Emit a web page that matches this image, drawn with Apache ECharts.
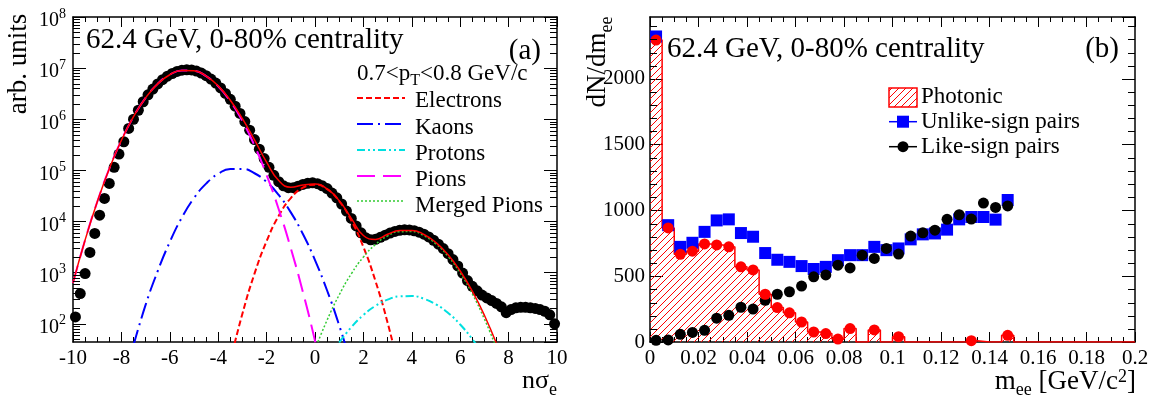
<!DOCTYPE html>
<html><head><meta charset="utf-8">
<script src="https://cdn.jsdelivr.net/npm/echarts@6/dist/echarts.min.js"></script>
<style>html,body{margin:0;padding:0;background:#fff}#c{width:1162px;height:405px}</style>
</head><body><div id="c"></div>
<script>
const FONT = "'Liberation Serif','Times New Roman',serif";

// ---------- Panel (a): n sigma_e distribution ----------
const nsigX = [-10,-9.5,-9,-8.5,-8,-7.5,-7,-6.5,-6,-5.5,-5,-4.5,-4,-3.5,-3,-2.5,-2,-1.5,-1,-0.5,0,0.5,1,1.5,2,2.5,3,3.5,4,4.5,5,5.5,6,6.5,7,7.5,8];
const pions = [630,4345,24100,108000,388000,1124000,2620000,4920000,7430000,9020000,8830000,6950000,4410000,2250000,925000,305000,81300,17400,3000,417,46.6,4.2,null,null,null,null,null,null,null,null,null,null,null,null,null,null,null];
const kaons = [null,null,null,null,null,38,234,1070,3980,12000,28800,55000,85700,107000,107000,87900,59400,33100,15100,5690,1760,447,93,16,null,null,null,null,null,null,null,null,null,null,null,null,null];
const electrons = [null,null,null,null,null,null,null,null,null,null,null,null,null,18.6,157,955,4130,12900,28700,45800,52400,42900,25100,10500,3170,682,105,11.6,null,null,null,null,null,null,null,null,null];
const protons = [null,null,null,null,null,null,null,null,null,null,null,null,null,null,null,null,null,null,null,null,null,null,43,85.5,148,224,296,343,348,308,239,163,96.6,50,22.8,null,null];
const mergedPions = [null,null,null,null,null,null,null,null,null,null,null,null,null,null,null,null,null,null,null,null,31.5,118,368,946,2020,3565,5220,6320,6350,5275,3630,2075,980,384,124,33.4,null];
const totalFit = [630,4345,24100,108000,388000,1124000,2620000,4920000,7430000,9030000,8860000,7000000,4500000,2360000,1030000,394000,145000,63400,46800,51900,54200,43500,25600,11550,5340,4470,5620,6675,6700,5580,3870,2240,1077,434,147,41,null];

const dataX = [-9.9,-9.7,-9.5,-9.3,-9.1,-8.9,-8.7,-8.5,-8.3,-8.1,-7.9,-7.7,-7.5,-7.3,-7.1,-6.9,-6.7,-6.5,-6.3,-6.1,-5.9,-5.7,-5.5,-5.3,-5.1,-4.9,-4.7,-4.5,-4.3,-4.1,-3.9,-3.7,-3.5,-3.3,-3.1,-2.9,-2.7,-2.5,-2.3,-2.1,-1.9,-1.7,-1.5,-1.3,-1.1,-0.9,-0.7,-0.5,-0.3,-0.1,0.1,0.3,0.5,0.7,0.9,1.1,1.3,1.5,1.7,1.9,2.1,2.3,2.5,2.7,2.9,3.1,3.3,3.5,3.7,3.9,4.1,4.3,4.5,4.7,4.9,5.1,5.3,5.5,5.7,5.9,6.1,6.3,6.5,6.7,6.9,7.1,7.3,7.5,7.7,7.9,8.1,8.3,8.5,8.7,8.9,9.1,9.3,9.5,9.7,9.9];
const dataY = [136,390,960,2480,5850,13300,28300,55600,115000,208000,363000,660000,1000000,1500000,2200000,3000000,3900000,4900000,5950000,6950000,7850000,8600000,9100000,9300000,9200000,8750000,8000000,7100000,6100000,5100000,4100000,3200000,2450000,1800000,1300000,900000,610000,400000,260000,170000,115000,80000,60000,50000,46000,46000,49000,53000,56000,57000,55000,50000,44000,36000,29000,22000,16000,11500,8200,6000,4800,4400,4500,4900,5400,5950,6400,6750,6900,6850,6600,6200,5650,5000,4300,3600,2950,2350,1800,1350,980,700,540,440,365,320,285,250,215,165,190,205,210,210,205,200,190,175,150,100];

const logDecades = [10,100,1000,10000,100000,1000000,10000000];
const logMultipliers = [2,3,4,5,6,7,8,9];
const yTitleA = 'arb. units';
const xTitleA = ['n', 'σ', 'e'];

// ---------- Panel (b): di-electron mass ----------
const massX = [0.0025,0.0075,0.0125,0.0175,0.0225,0.0275,0.0325,0.0375,0.0425,0.0475,0.0525,0.0575,0.0625,0.0675,0.0725,0.0775,0.0825,0.0875,0.0925,0.0975,0.1025,0.1075,0.1125,0.1175,0.1225,0.1275,0.1325,0.1375,0.1425,0.1475];
const unlikeSign = [2322,888,723,754,837,924,932,828,800,676,625,609,577,555,571,622,660,660,723,698,711,780,818,825,854,932,950,950,930,1079];
const likeSign = [13,16,58,73,89,181,203,264,250,317,363,382,425,495,510,584,563,660,635,711,668,805,830,850,932,967,934,1056,1023,1034];
const photonic = [2295,867,666,690,745,738,723,571,548,363,262,222,152,76,64,22,102,-40,92,-40,40,-40,-40,-40,-40,-40,10,-40,-40,51];
const massMinorTicks = [100,200,300,400,600,700,800,900,1100,1200,1300,1400,1600,1700,1800,1900,2100,2200,2300,2400];
const binHalfWidth = 0.0025;
const massAxisEnd = 0.2;

// ---------- helpers ----------
function pairs(xs, ys) { const out = []; xs.forEach((x, i) => { if (ys[i] !== null) out.push([x, ys[i]]); }); return out; }
const logMinorTicks = [];
logDecades.forEach(d => logMultipliers.forEach(m => { const v = d * m; if (v >= 44 && v < 1e8) logMinorTicks.push(v); }));

const histData = massX.map((x, i) => [+(x - binHalfWidth).toFixed(4), Math.max(0, photonic[i])]);
histData.push([+(massX[massX.length - 1] + binHalfWidth).toFixed(4), 0]);
histData.push([massAxisEnd, 0]);

function hatchCanvas() {
  const s = 7; const c = document.createElement('canvas'); c.width = s; c.height = s;
  const g = c.getContext('2d'); g.strokeStyle = '#ff0000'; g.lineWidth = 1;
  g.beginPath(); g.moveTo(0, s); g.lineTo(s, 0); g.moveTo(-1, 1); g.lineTo(1, -1); g.moveTo(s - 1, s + 1); g.lineTo(s + 1, s - 1); g.stroke();
  return c;
}
const hatchPattern = { image: hatchCanvas(), repeat: 'repeat' };

const axLine = { onZero: false, lineStyle: { color: '#000', width: 1.5 } };
const lbl = { color: '#000', fontFamily: FONT, fontSize: 21 };

function xAxisDef(grid, pos, min, max, interval, showLabel) {
  return {
    type: 'value', gridIndex: grid, position: pos, min: min, max: max, interval: interval,
    axisLine: axLine, splitLine: { show: false }, minorSplitLine: { show: false },
    axisTick: { inside: true, length: 10, lineStyle: { color: '#000', width: 1 } },
    minorTick: { show: true, splitNumber: 4, length: 5, lineStyle: { color: '#000', width: 1 } },
    axisLabel: Object.assign({ show: showLabel, margin: 6, formatter: v => String(+v.toFixed(4)) }, lbl)
  };
}

const logLabel = {
  show: true, margin: 7, showMinLabel: false, color: '#000',
  formatter: v => '{b|10}{s|' + Math.round(Math.log10(v)) + '}',
  rich: {
    b: { fontFamily: FONT, fontSize: 20, color: '#000', verticalAlign: 'top', padding: [8, 0, 0, 0] },
    s: { fontFamily: FONT, fontSize: 14, color: '#000', verticalAlign: 'top', padding: [4, 0, 0, 0] }
  }
};

function logYDef(pos, showLabel) {
  return {
    type: 'log', logBase: 10, gridIndex: 0, position: pos, min: 44, max: 1e8,
    axisLine: axLine, splitLine: { show: false },
    axisTick: { inside: true, length: 13, lineStyle: { color: '#000', width: 1 } },
    axisLabel: showLabel ? logLabel : { show: false }
  };
}
function linYDef(pos, showLabel) {
  return {
    type: 'value', gridIndex: 1, position: pos, min: 0, max: 2470, interval: 500,
    axisLine: axLine, splitLine: { show: false },
    axisTick: { inside: true, length: 13, lineStyle: { color: '#000', width: 1 } },
    axisLabel: Object.assign({ show: showLabel, margin: 5, showMaxLabel: false, formatter: v => String(v) }, lbl)
  };
}

function curve(name, ys, color, width, dash, z) {
  return { type: 'line', name: name, xAxisIndex: 0, yAxisIndex: 0, data: pairs(nsigX, ys), smooth: true,
    symbol: 'none', showSymbol: false, clip: true, z: z || 4,
    lineStyle: { color: color, width: width, type: dash } };
}

const curveStyles = [
  { name: 'Electrons', color: '#ff0000', width: 2, dash: [6, 3] },
  { name: 'Kaons', color: '#0000ff', width: 2, dash: [16, 5, 2, 5] },
  { name: 'Protons', color: '#00e0e0', width: 2, dash: [8, 3, 2, 3, 2, 3] },
  { name: 'Pions', color: '#ff00ff', width: 2, dash: [18, 8] },
  { name: 'Merged Pions', color: '#33cc33', width: 1.5, dash: [2, 2] }
];
const curveData = { 'Electrons': electrons, 'Kaons': kaons, 'Protons': protons, 'Pions': pions, 'Merged Pions': mergedPions };

// ---------- graphic texts and legends ----------
const g = [];
function txt(x, y, text, size, align, extra) {
  const st = Object.assign({ x: 0, y: 0, text: text, fill: '#000', fontFamily: FONT, fontSize: size,
    align: align, textAlign: align, verticalAlign: 'middle', textVerticalAlign: 'middle' }, extra || {});
  return { type: 'text', x: x, y: y, z: 100, style: st };
}
const yt = txt(19, 64, yTitleA, 27, 'center'); yt.rotation = Math.PI / 2; g.push(yt);
g.push(txt(86, 40, '62.4 GeV, 0-80% centrality', 29, 'left'));
g.push(txt(541, 51, '(a)', 29, 'right'));
g.push(txt(667, 49.5, '62.4 GeV, 0-80% centrality', 29, 'left'));
g.push(txt(1119, 49.5, '(b)', 29, 'right'));
g.push(txt(357, 75.7, '{m|0.7<p}{s|T}{m|<0.8 GeV/c}', 23, 'left', { rich: {
  m: { fontFamily: FONT, fontSize: 23, verticalAlign: 'top' },
  s: { fontFamily: FONT, fontSize: 16, verticalAlign: 'top', padding: [10, 0, 0, 0] } } }));
g.push(txt(557, 384, '{m|' + xTitleA[0] + xTitleA[1] + '}{s|' + xTitleA[2] + '}', 26, 'right', { rich: {
  m: { fontFamily: FONT, fontSize: 26, verticalAlign: 'top' },
  s: { fontFamily: FONT, fontSize: 18, verticalAlign: 'top', padding: [13, 0, 0, 0] } } }));
g.push(txt(1136, 384, '{m|m}{s|ee}{m| [GeV/c}{p|2}{m|]}', 27, 'right', { rich: {
  m: { fontFamily: FONT, fontSize: 27, verticalAlign: 'top' },
  s: { fontFamily: FONT, fontSize: 18, verticalAlign: 'top', padding: [13, 0, 0, 0] },
  p: { fontFamily: FONT, fontSize: 18, verticalAlign: 'top', padding: [0, 0, 0, 0] } } }));
const dn = txt(600, 62, '{m|dN/dm}{s|ee}', 27, 'center', { rich: {
  m: { fontFamily: FONT, fontSize: 27, verticalAlign: 'top' },
  s: { fontFamily: FONT, fontSize: 18, verticalAlign: 'top', padding: [14, 0, 0, 0] } } });
dn.rotation = Math.PI / 2; g.push(dn);

// left legend
const legLineY = [98, 124, 150, 176, 201];
const legTextY = [101, 127.5, 153.5, 180, 206];
curveStyles.forEach((c, i) => {
  g.push({ type: 'line', z: 100, shape: { x1: 357, y1: legLineY[i], x2: 405, y2: legLineY[i] },
    style: { stroke: c.color, lineWidth: c.width, lineDash: c.dash } });
  g.push(txt(415, legTextY[i], c.name, 23, 'left'));
});
// right legend
g.push({ type: 'rect', z: 100, shape: { x: 889, y: 88, width: 28, height: 19 }, style: { fill: hatchPattern, stroke: '#ff0000', lineWidth: 1.5 } });
g.push(txt(921, 97, 'Photonic', 23, 'left'));
g.push({ type: 'line', z: 100, shape: { x1: 889, y1: 121.7, x2: 917, y2: 121.7 }, style: { stroke: '#0000ff', lineWidth: 1.5 } });
g.push({ type: 'rect', z: 100, shape: { x: 897, y: 115.7, width: 12, height: 12 }, style: { fill: '#0000ff' } });
g.push(txt(921, 121.7, 'Unlike-sign pairs', 23, 'left'));
g.push({ type: 'line', z: 100, shape: { x1: 889, y1: 146.7, x2: 917, y2: 146.7 }, style: { stroke: '#000', lineWidth: 1.5 } });
g.push({ type: 'circle', z: 100, shape: { cx: 903, cy: 146.7, r: 5.5 }, style: { fill: '#000' } });
g.push(txt(921, 146.7, 'Like-sign pairs', 23, 'left'));

const series = [
  { type: 'scatter', name: 'Data', xAxisIndex: 0, yAxisIndex: 0, data: pairs(dataX, dataY), symbol: 'circle', symbolSize: 11,
    itemStyle: { color: '#000', opacity: 1 }, z: 2 }
];
curveStyles.forEach(c => series.push(curve(c.name, curveData[c.name], c.color, c.width, c.dash, 4)));
series.push(curve('Total', totalFit, '#ff0000', 1.5, 'solid', 5));
series.push({ type: 'line', name: 'Photonic hist', xAxisIndex: 2, yAxisIndex: 2, data: histData, step: 'end', symbol: 'none', showSymbol: false,
  lineStyle: { color: '#ff0000', width: 1.5 }, areaStyle: { color: hatchPattern, opacity: 1 }, z: 2 });
series.push({ type: 'scatter', name: 'Unlike-sign pairs', xAxisIndex: 2, yAxisIndex: 2, data: pairs(massX, unlikeSign), symbol: 'rect', symbolSize: 12, itemStyle: { color: '#0000ff', opacity: 1 }, z: 3 });
series.push({ type: 'scatter', name: 'Like-sign pairs', xAxisIndex: 2, yAxisIndex: 2, data: pairs(massX, likeSign), symbol: 'circle', symbolSize: 11, itemStyle: { color: '#000', opacity: 1 }, z: 4 });
series.push({ type: 'scatter', name: 'Photonic', xAxisIndex: 2, yAxisIndex: 2, data: pairs(massX, photonic), symbol: 'circle', symbolSize: 11, itemStyle: { color: '#ff0000', opacity: 1 }, z: 5, clip: true });

const option = {
  animation: false,
  backgroundColor: '#fff',
  grid: [
    { left: 73, top: 17, width: 484, height: 325, outerBoundsMode: 'none' },
    { left: 650, top: 17, width: 485, height: 325, outerBoundsMode: 'none' }
  ],
  xAxis: [
    xAxisDef(0, 'bottom', -10, 10, 2, true),
    xAxisDef(0, 'top', -10, 10, 2, false),
    xAxisDef(1, 'bottom', 0, massAxisEnd, 0.02, true),
    xAxisDef(1, 'top', 0, massAxisEnd, 0.02, false)
  ],
  yAxis: [ logYDef('left', true), logYDef('right', false), linYDef('left', true), linYDef('right', false) ],
  series: series,
  graphic: { elements: g }
};
const chart = echarts.init(document.getElementById('c'), null, { renderer: 'canvas' });
chart.setOption(option);

// minor y ticks, positioned through the chart's own axis scales
const TICK_COLOR = '#000000';
function minorTicks(finder, vals, xmin, xmax, len) {
  const out = [];
  vals.forEach(v => {
    const p0 = chart.convertToPixel(finder, [xmin, v]);
    const p1 = chart.convertToPixel(finder, [xmax, v]);
    if (!p0 || !p1) return;
    const y = Math.round(p0[1]) + 0.5;
    out.push({ type: 'line', z: 50, shape: { x1: p0[0], y1: y, x2: p0[0] + len, y2: y }, style: { stroke: TICK_COLOR, lineWidth: 1 } });
    out.push({ type: 'line', z: 50, shape: { x1: p1[0] - len, y1: y, x2: p1[0], y2: y }, style: { stroke: TICK_COLOR, lineWidth: 1 } });
  });
  return out;
}
const tickEls = minorTicks({ xAxisIndex: 0, yAxisIndex: 0 }, logMinorTicks, -10, 10, 7)
  .concat(minorTicks({ xAxisIndex: 2, yAxisIndex: 2 }, massMinorTicks, 0, massAxisEnd, 7));
chart.setOption({ graphic: { elements: g.concat(tickEls) } });
</script></body></html>
